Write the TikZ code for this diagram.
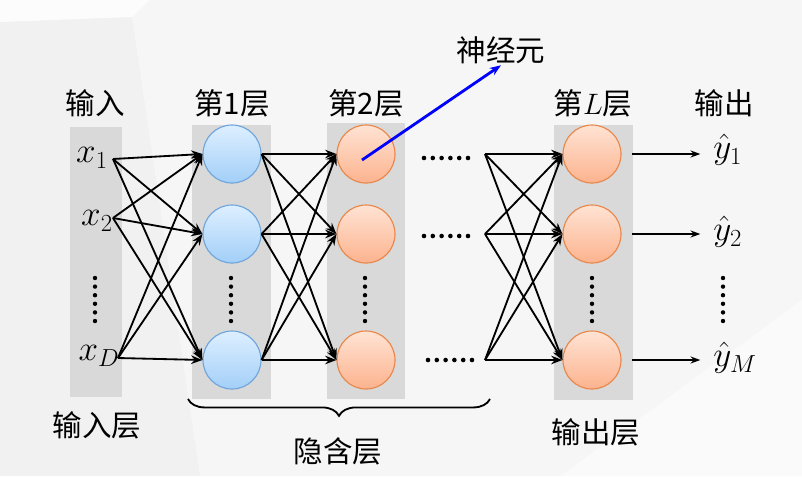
\RequirePackage{fix-cm}
\documentclass[tikz,border=0pt]{standalone}
\usepackage{fontspec}
\newfontfamily\cjk{Noto Sans CJK SC}
\usetikzlibrary{arrows.meta,positioning,decorations.pathreplacing}

\definecolor{bggray}{HTML}{F1F1F1}
\definecolor{bglight}{HTML}{F6F6F6}
\definecolor{layergray}{HTML}{D9D9D9}
\definecolor{blueedge}{HTML}{6FA5DA}
\definecolor{bluetop}{HTML}{DDEFFF}
\definecolor{bluebot}{HTML}{A3CFF8}
\definecolor{orangeedge}{HTML}{E8874A}
\definecolor{orangetop}{HTML}{FFE3D4}
\definecolor{orangebot}{HTML}{FCB38E}

\tikzset{
  cjklabel/.style={font=\cjk\fontsize{21}{24}\selectfont, inner sep=1pt},
  mathlabel/.style={font=\fontsize{25}{30}\selectfont, inner sep=0pt},
  layerbox/.style={fill=layergray, draw=none},
  blueunit/.style={circle, minimum size=1.45cm, inner sep=0pt, draw=blueedge,
    line width=0.8pt, top color=bluetop, bottom color=bluebot},
  orangeunit/.style={circle, minimum size=1.45cm, inner sep=0pt, draw=orangeedge,
    line width=0.8pt, top color=orangetop, bottom color=orangebot},
  conn/.style={line width=1.3pt, -{Stealth[length=8pt,width=6pt]}},
  outarrow/.style={line width=1pt, -{Stealth[length=7pt,width=5pt]}},
  neuronarrow/.style={line width=2pt, blue, -{Stealth[length=8pt,width=6pt]}}
}

\begin{document}
\begin{tikzpicture}[x=0.025cm,y=-0.025cm]
    % Background
    \fill[bggray] (0,0) rectangle (802,476);
    \fill[bglight] (150,0) -- (802,0) -- (802,300) -- (560,476) -- (200,476) -- (132,17) -- cycle;
    \fill[white!70!bglight] (0,0) -- (150,0) -- (132,17) -- (0,22) -- cycle;
    \fill[white!40!bglight] (560,476) -- (802,300) -- (802,476) -- cycle;

    % Layer columns
    \fill[layerbox] (70,127) rectangle (122,397);
    \fill[layerbox] (192,125) rectangle (271,399);
    \fill[layerbox] (327,123) rectangle (405,399);
    \fill[layerbox] (554,125) rectangle (633,400);

    % Headers
    \node[cjklabel] (inhead) at (95,103) {输入};
    \node[cjklabel] (l1head) at (232,103) {第1层};
    \node[cjklabel] (l2head) at (366,103) {第2层};
    \node[cjklabel] (lLhead) at (593,103) {第$L$层};
    \node[cjklabel] (outhead) at (724,103) {输出};
    \node[cjklabel] (neuron) at (501,50) {神经元};

    % Inputs
    \node[mathlabel] (x1) at (92,158) {$x_1$};
    \node[mathlabel] (x2) at (97,221) {$x_2$};
    \node[mathlabel] (xD) at (99,356) {$x_D$};
    \coordinate (in1) at (113,159);
    \coordinate (in2) at (113,218);
    \coordinate (inD) at (118,358);

    % Units
    \foreach \r/\y in {1/154,2/234,3/360} {
        \node[blueunit] (h1\r) at (232,\y) {};
        \node[orangeunit] (h2\r) at (366,\y) {};
        \node[orangeunit] (hL\r) at (592,\y) {};
        \coordinate (f\r) at (485,\y);
    }

    % Connections
    \foreach \i in {1,2,D}
        \foreach \r in {1,2,3}
            \draw[conn] (in\i) -- (h1\r.west);
    \foreach \a in {1,2,3}
        \foreach \b in {1,2,3} {
            \draw[conn] (h1\a.east) -- (h2\b.west);
            \draw[conn] (f\a) -- (hL\b.west);
        }

    % Outputs
    \node[mathlabel, anchor=west] (yhat1) at (713,150) {$\hat{y}_1$};
    \node[mathlabel, anchor=west] (yhat2) at (713,232) {$\hat{y}_2$};
    \node[mathlabel, anchor=west] (yhatM) at (713,358) {$\hat{y}_M$};
    \draw[outarrow, shorten <=7.5pt, shorten >=9pt] (hL1.east) -- (hL1.east -| yhat1.west);
    \draw[outarrow, shorten <=7.5pt, shorten >=9pt] (hL2.east) -- (hL2.east -| yhat2.west);
    \draw[outarrow, shorten <=7.5pt, shorten >=9pt] (hL3.east) -- (hL3.east -| yhatM.west);

    % Dots
    \foreach \x in {95,231,365,592,723}
        \foreach \k in {0,...,5}
            \fill (\x,278+8.6*\k) circle (2.2);
    \foreach \x/\y in {424/158,424/236,428/360}
        \foreach \k in {0,...,5}
            \fill (\x+8.8*\k,\y) circle (2.3);

    % Neuron pointer
    \draw[neuronarrow] ([shift={(-4,6)}]h21.center) -- (neuron.south);

    % Bottom labels
    \draw[line width=1.3pt, decorate, decoration={brace, mirror, amplitude=12pt}] (188,399) -- (490,399);
    \node[cjklabel] (inlayer) at (97,425) {输入层};
    \node[cjklabel] (hidlayer) at (338,451) {隐含层};
    \node[cjklabel] (outlayer) at (596,432) {输出层};
\end{tikzpicture}
\end{document}
